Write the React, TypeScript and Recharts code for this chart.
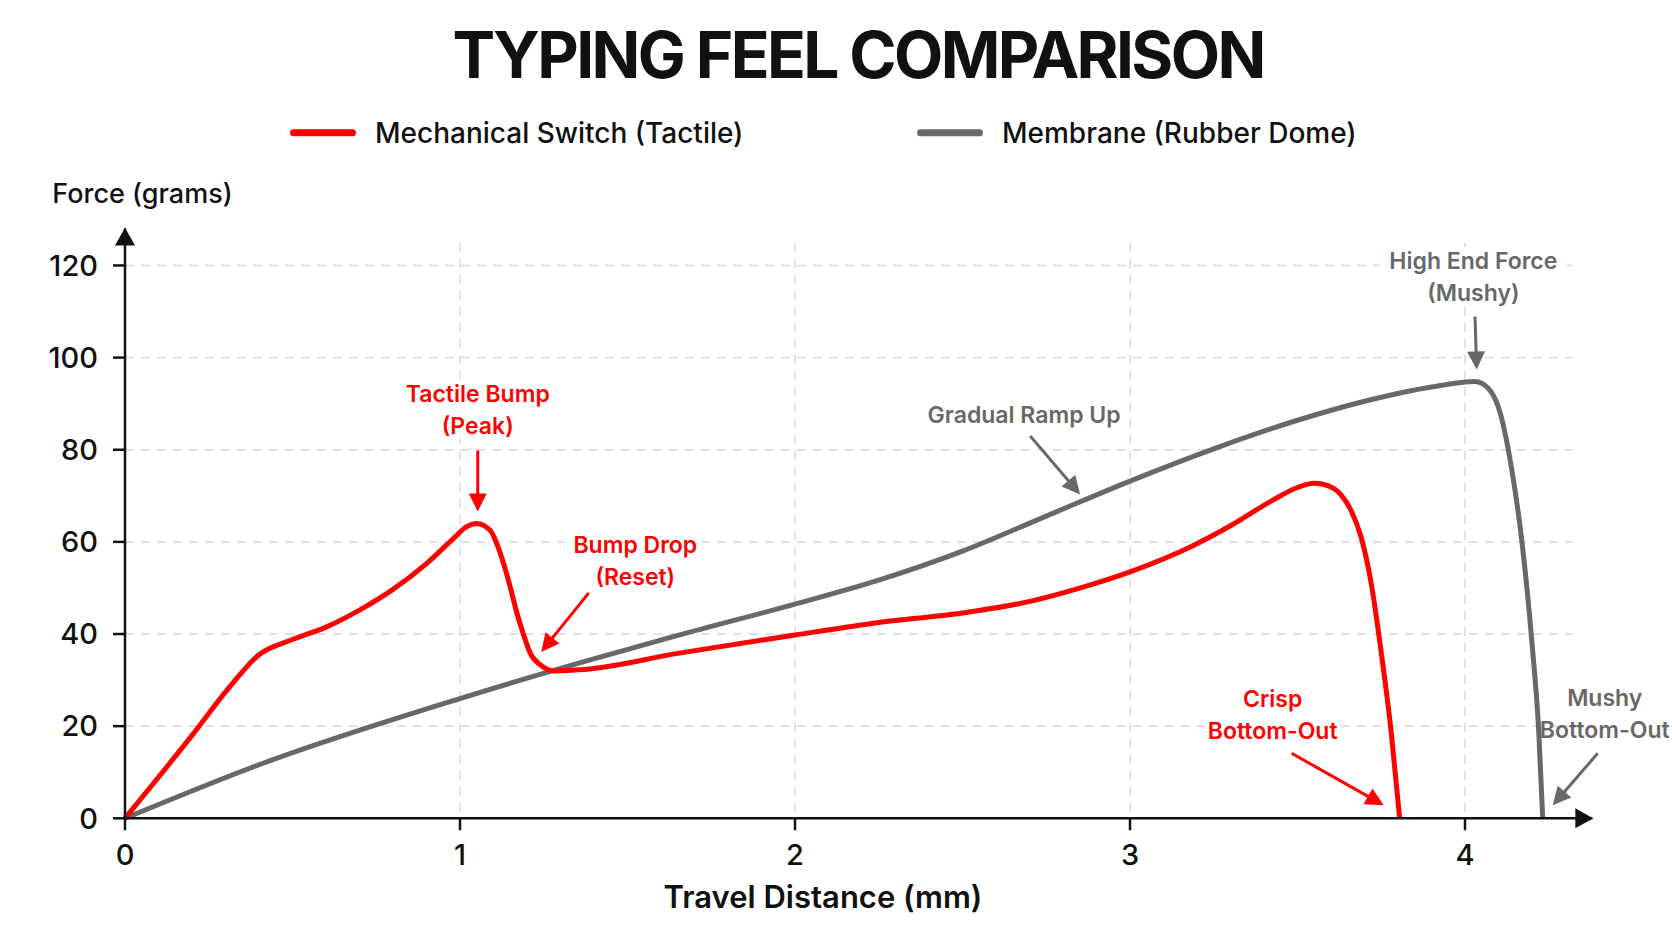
import React from 'react';
import { LineChart, Line, XAxis, YAxis, CartesianGrid, ReferenceDot } from 'recharts';

const W = 1672;
const H = 941;
const FONT = 'Inter, "Noto Sans", sans-serif';
const RED = '#ff0000';
const GRAY = '#686868';
const INK = '#111111';

// Mechanical (tactile) switch: travel in mm, force in grams
const mechTravel = [0, 0.2, 0.31, 0.4, 0.5, 0.6, 0.7, 0.8, 0.9, 0.98, 1.02, 1.05, 1.09, 1.11, 1.13, 1.15, 1.17, 1.19, 1.21, 1.24, 1.28, 1.37, 1.65, 2.0, 2.23, 2.52, 2.67, 2.86, 3.0, 3.18, 3.3, 3.42, 3.5, 3.55, 3.59, 3.63, 3.66, 3.69, 3.72, 3.75, 3.78, 3.805];
const mechForce = [0, 18, 28.3, 35.5, 38.8, 41.5, 45.2, 49.7, 55.3, 60.7, 63.3, 64, 62.5, 59.6, 55.3, 50.2, 44.5, 39.8, 35.8, 33.3, 32, 32.3, 35.8, 39.8, 42.3, 44.8, 46.6, 50.2, 53.5, 58.9, 63.5, 68.8, 71.8, 72.7, 72.2, 70.2, 66.8, 61, 51, 36, 18.5, 0];

// Membrane (rubber dome): travel in mm, force in grams
const domeTravel = [0, 0.41, 1.0, 1.37, 1.65, 2.0, 2.25, 2.5, 2.75, 3.0, 3.25, 3.5, 3.75, 3.9, 4.03, 4.07, 4.105, 4.14, 4.17, 4.2, 4.22, 4.232];
const domeForce = [0, 11.9, 26, 34.0, 39.7, 46.5, 51.7, 58.0, 65.6, 73.2, 80.2, 86.4, 91.4, 93.6, 94.8, 93.3, 88, 75.5, 60, 38, 19, 0];

const xTicks = [0, 1, 2, 3, 4];
const yTicks = [0, 20, 40, 60, 80, 100, 120];

const toPoints = (xs: number[], ys: number[]) => xs.map((travel, i) => ({ travel, force: ys[i] }));
const mechData = toPoints(mechTravel, mechForce);
const domeData = toPoints(domeTravel, domeForce);

const legendItems = [
  { label: 'Mechanical Switch (Tactile)', color: RED, x: 290 },
  { label: 'Membrane (Rubber Dome)', color: GRAY, x: 917 },
];

type Note = {
  lines: string[];
  color: string;
  travel: number;
  force: number;
  tip: [number, number];
  tail: [number, number];
  text: [number, number];
  knockout: boolean;
};

// Callouts anchored on curve features; offsets are in pixels from the anchor
const notes: Note[] = [
  { lines: ['Tactile Bump', '(Peak)'], color: RED, travel: 1.05, force: 64, tip: [1, -12], tail: [1, -73], text: [1, -130], knockout: true },
  { lines: ['Bump Drop', '(Reset)'], color: RED, travel: 1.28, force: 32, tip: [-12.6, -19], tail: [35, -78], text: [81.5, -126], knockout: true },
  { lines: ['Gradual Ramp Up'], color: GRAY, travel: 2.86, force: 68.9, tip: [-3, -6.5], tail: [-53, -65], text: [-59, -86.5], knockout: true },
  { lines: ['High End Force', '(Mushy)'], color: GRAY, travel: 4.03, force: 94.8, tip: [1.6, -12], tail: [0, -65], text: [-1.7, -120.6], knockout: true },
  { lines: ['Crisp', 'Bottom-Out'], color: RED, travel: 3.805, force: 0, tip: [-16, -13], tail: [-108, -65], text: [-127, -120], knockout: true },
  { lines: ['Mushy', 'Bottom-Out'], color: GRAY, travel: 4.232, force: 0, tip: [10, -13], tail: [55, -65], text: [62, -120.5], knockout: false },
];

const NOTE_FS = 23;
const NOTE_LINE = 32;

function NoteMark(props: any) {
  const { cx, cy, note } = props as { cx: number; cy: number; note: Note };
  if (typeof cx !== 'number' || typeof cy !== 'number') return null;
  const tx = cx + note.tip[0];
  const ty = cy + note.tip[1];
  const sx = cx + note.tail[0];
  const sy = cy + note.tail[1];
  const dx = tx - sx;
  const dy = ty - sy;
  const len = Math.hypot(dx, dy) || 1;
  const ux = dx / len;
  const uy = dy / len;
  const head = 18;
  const half = 9;
  const bx = tx - ux * head;
  const by = ty - uy * head;
  const pts = `${tx},${ty} ${bx - uy * half},${by + ux * half} ${bx + uy * half},${by - ux * half}`;
  const centerX = cx + note.text[0];
  const firstY = cy + note.text[1];
  const longest = Math.max(...note.lines.map((l) => l.length));
  const boxW = longest * NOTE_FS * 0.56 + 6;
  return (
    <g>
      {note.knockout && (
        <rect
          x={centerX - boxW / 2}
          y={firstY - NOTE_FS * 0.6}
          width={boxW}
          height={(note.lines.length - 1) * NOTE_LINE + NOTE_FS * 1.2}
          fill="#ffffff"
        />
      )}
      <line x1={sx} y1={sy} x2={bx + ux * 2} y2={by + uy * 2} stroke={note.color} strokeWidth={3} />
      <polygon points={pts} fill={note.color} />
      <text textAnchor="middle" fontFamily={FONT} fontSize={NOTE_FS} fontWeight={600} fill={note.color}>
        {note.lines.map((line, i) => (
          <tspan key={i} x={centerX} y={firstY + i * NOTE_LINE + NOTE_FS * 0.36}>
            {line}
          </tspan>
        ))}
      </text>
    </g>
  );
}

const tickStyle = { fontSize: 29, fill: INK, fontWeight: 500, fontFamily: FONT };

export default function App() {
  return (
    <div style={{ position: 'absolute', left: 0, top: 0, width: W, height: H, background: '#ffffff', fontFamily: FONT }}>
      <div style={{ position: 'absolute', left: 0, top: 0 }}>
        <LineChart width={W} height={H} margin={{ top: 228.6, right: 79.7, bottom: 62.7, left: 0 }}>
          <CartesianGrid
            x={125}
            y={243}
            width={1448}
            height={575.3}
            horizontalValues={yTicks}
            verticalValues={xTicks}
            stroke="#d9d9d9"
            strokeWidth={1.5}
            strokeDasharray="9 7"
          />
          <XAxis
            dataKey="travel"
            type="number"
            domain={[0, 4.38]}
            ticks={xTicks}
            interval={0}
            height={60}
            tickSize={12}
            tickMargin={14}
            tick={tickStyle}
            axisLine={{ stroke: INK, strokeWidth: 2.5, markerEnd: 'url(#axis-arrow)' }}
            tickLine={{ stroke: INK, strokeWidth: 2.5 }}
          />
          <YAxis
            type="number"
            domain={[0, 128]}
            ticks={yTicks}
            interval={0}
            width={125}
            tickSize={12}
            tickMargin={15}
            tick={tickStyle}
            axisLine={{ stroke: INK, strokeWidth: 2.5, markerStart: 'url(#axis-arrow)' }}
            tickLine={{ stroke: INK, strokeWidth: 2.5 }}
          />
          <Line
            data={domeData}
            dataKey="force"
            name="Membrane (Rubber Dome)"
            type="monotone"
            stroke={GRAY}
            strokeWidth={5}
            dot={false}
            activeDot={false}
            isAnimationActive={false}
          />
          <Line
            data={mechData}
            dataKey="force"
            name="Mechanical Switch (Tactile)"
            type="monotone"
            stroke={RED}
            strokeWidth={5}
            dot={false}
            activeDot={false}
            isAnimationActive={false}
          />
          {notes.map((note, i) => (
            <ReferenceDot
              key={i}
              x={note.travel}
              y={note.force}
              r={0}
              ifOverflow="visible"
              shape={(p: any) => <NoteMark {...p} note={note} />}
            />
          ))}
        </LineChart>
      </div>
      <svg width={W} height={H} style={{ position: 'absolute', left: 0, top: 0, pointerEvents: 'none' }}>
        <defs>
          <marker
            id="axis-arrow"
            markerUnits="userSpaceOnUse"
            markerWidth={18}
            markerHeight={20}
            viewBox="0 0 18 20"
            refX={17}
            refY={10}
            orient="auto-start-reverse"
          >
            <path d="M0,0 L18,10 L0,20 Z" fill={INK} />
          </marker>
        </defs>
        <text x={858} y={78.3} textAnchor="middle" fontFamily={FONT} fontSize={64} fontWeight={700} letterSpacing={-2.6} fill={INK}>
          TYPING FEEL COMPARISON
        </text>
        {legendItems.map((item) => (
          <g key={item.label}>
            <line x1={item.x + 3.5} y1={132.7} x2={item.x + 62.5} y2={132.7} stroke={item.color} strokeWidth={7} strokeLinecap="round" />
            <text x={item.x + 85} y={143} fontFamily={FONT} fontSize={28} fontWeight={500} fill={INK}>
              {item.label}
            </text>
          </g>
        ))}
        <text x={142.5} y={203.3} textAnchor="middle" fontFamily={FONT} fontSize={27} fontWeight={500} fill={INK}>
          Force (grams)
        </text>
        <text x={823} y={908} textAnchor="middle" fontFamily={FONT} fontSize={31} fontWeight={600} fill={INK}>
          Travel Distance (mm)
        </text>
      </svg>
    </div>
  );
}
